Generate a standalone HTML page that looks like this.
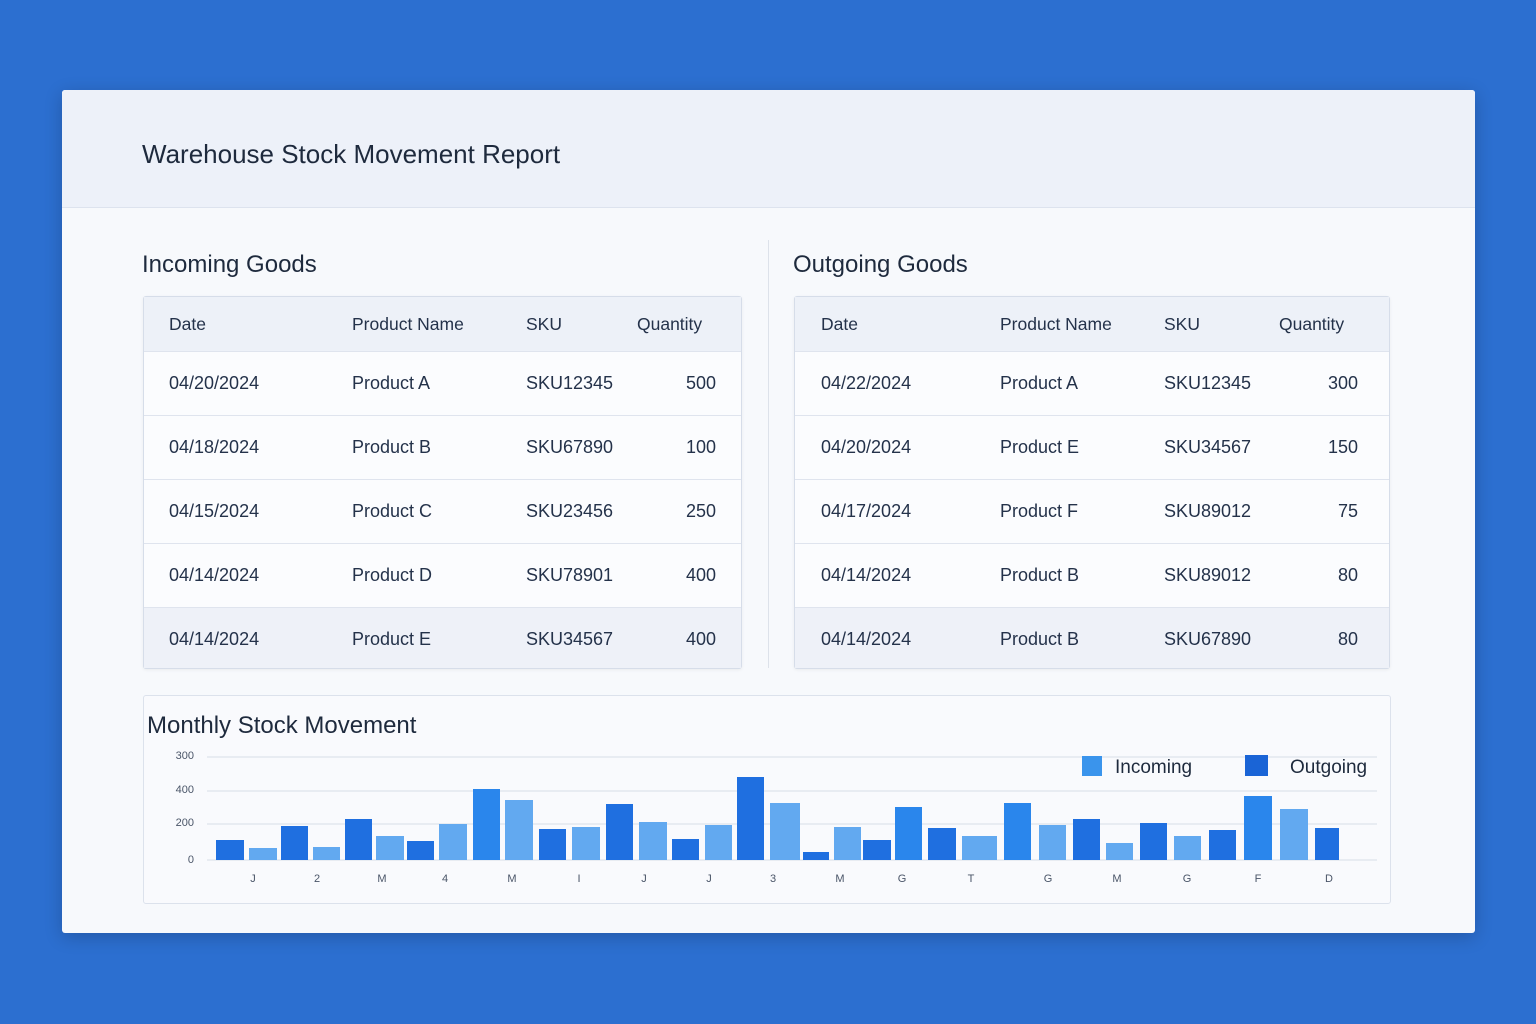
<!DOCTYPE html>
<html><head><style>
body{margin:0;width:1536px;height:1024px;background:#2c6fd0;font-family:"Liberation Sans",sans-serif;position:relative;overflow:hidden;color:#1e2a3d}
.card{position:absolute;left:62px;top:90px;width:1413px;height:843px;background:#f7f9fc;border-radius:3px;box-shadow:0 4px 18px rgba(0,0,0,.2);overflow:hidden}
.hdr{position:absolute;left:0;top:0;width:100%;height:117px;background:#edf1f9;border-bottom:1px solid #dde3ee}
.t{position:absolute;white-space:nowrap}
.tbl{position:absolute;top:296px;height:371px;border:1px solid #d6dde9;background:#fbfcfe;border-radius:3px;box-shadow:0 1px 3px rgba(0,0,0,.06)}
.row{position:absolute;left:0;width:100%;border-bottom:1px solid #dfe4ee}
.row span{position:absolute;font-size:18px;color:#24324a}
</style></head><body>
<div class="card">
<div class="hdr"></div>
<div class="t" style="left:80px;top:49px;font-size:26px;color:#1e2a3d">Warehouse Stock Movement Report</div>
<div class="t" style="left:80px;top:161px;font-size:24px">Incoming Goods</div>
<div class="t" style="left:731px;top:161px;font-size:24px">Outgoing Goods</div>
<div style="position:absolute;left:706px;top:150px;width:1px;height:428px;background:#dde2ea"></div>
</div>

<div class="tbl" style="left:143px;width:597px">
<div class="row" style="top:0;height:54px;background:#edf1f8"><span style="left:25px;top:17px;font-size:17.5px">Date</span><span style="left:208px;top:17px;font-size:17.5px">Product Name</span><span style="left:382px;top:17px;font-size:17.5px">SKU</span><span style="left:493px;top:17px;font-size:17.5px">Quantity</span></div>
<div class="row" style="top:55px;height:63px"><span style="left:25px;top:21px">04/20/2024</span><span style="left:208px;top:21px">Product A</span><span style="left:382px;top:21px">SKU12345</span><span style="right:25px;top:21px">500</span></div>
<div class="row" style="top:119px;height:63px"><span style="left:25px;top:21px">04/18/2024</span><span style="left:208px;top:21px">Product B</span><span style="left:382px;top:21px">SKU67890</span><span style="right:25px;top:21px">100</span></div>
<div class="row" style="top:183px;height:63px"><span style="left:25px;top:21px">04/15/2024</span><span style="left:208px;top:21px">Product C</span><span style="left:382px;top:21px">SKU23456</span><span style="right:25px;top:21px">250</span></div>
<div class="row" style="top:247px;height:63px"><span style="left:25px;top:21px">04/14/2024</span><span style="left:208px;top:21px">Product D</span><span style="left:382px;top:21px">SKU78901</span><span style="right:25px;top:21px">400</span></div>
<div class="row" style="top:311px;height:60px;background:#eef1f8;border:none"><span style="left:25px;top:21px">04/14/2024</span><span style="left:208px;top:21px">Product E</span><span style="left:382px;top:21px">SKU34567</span><span style="right:25px;top:21px">400</span></div>
</div>

<div class="tbl" style="left:794px;width:594px">
<div class="row" style="top:0;height:54px;background:#edf1f8"><span style="left:26px;top:17px;font-size:17.5px">Date</span><span style="left:205px;top:17px;font-size:17.5px">Product Name</span><span style="left:369px;top:17px;font-size:17.5px">SKU</span><span style="left:484px;top:17px;font-size:17.5px">Quantity</span></div>
<div class="row" style="top:55px;height:63px"><span style="left:26px;top:21px">04/22/2024</span><span style="left:205px;top:21px">Product A</span><span style="left:369px;top:21px">SKU12345</span><span style="right:31px;top:21px">300</span></div>
<div class="row" style="top:119px;height:63px"><span style="left:26px;top:21px">04/20/2024</span><span style="left:205px;top:21px">Product E</span><span style="left:369px;top:21px">SKU34567</span><span style="right:31px;top:21px">150</span></div>
<div class="row" style="top:183px;height:63px"><span style="left:26px;top:21px">04/17/2024</span><span style="left:205px;top:21px">Product F</span><span style="left:369px;top:21px">SKU89012</span><span style="right:31px;top:21px">75</span></div>
<div class="row" style="top:247px;height:63px"><span style="left:26px;top:21px">04/14/2024</span><span style="left:205px;top:21px">Product B</span><span style="left:369px;top:21px">SKU89012</span><span style="right:31px;top:21px">80</span></div>
<div class="row" style="top:311px;height:60px;background:#eef1f8;border:none"><span style="left:26px;top:21px">04/14/2024</span><span style="left:205px;top:21px">Product B</span><span style="left:369px;top:21px">SKU67890</span><span style="right:31px;top:21px">80</span></div>
</div>

<div style="position:absolute;left:143px;top:695px;width:1246px;height:207px;border:1px solid #dce2ec;background:#f9fafd;border-radius:3px"></div>
<div class="t" style="left:147px;top:712px;font-size:24px">Monthly Stock Movement</div>

<svg style="position:absolute;left:0;top:0" width="1536" height="1024" font-family="Liberation Sans, sans-serif">
<g stroke="#e3e7ef" stroke-width="1.5">
<line x1="207" y1="757" x2="1377" y2="757"/><line x1="207" y1="791" x2="1377" y2="791"/><line x1="207" y1="824" x2="1377" y2="824"/><line x1="207" y1="860" x2="1377" y2="860"/>
</g>
<g font-size="11" fill="#4a5568" text-anchor="end">
<text x="194" y="759">300</text><text x="194" y="793">400</text><text x="194" y="826">200</text><text x="194" y="863">0</text>
</g>
<g id="bars"></g>
<rect x="1082" y="756" width="20" height="20" fill="#3a94ec"/>
<text x="1115" y="773" font-size="19" fill="#1e2a3d">Incoming</text>
<rect x="1245" y="755" width="23" height="21" fill="#1a64d6"/>
<text x="1290" y="773" font-size="19" fill="#1e2a3d">Outgoing</text>
<g font-size="11" fill="#4a5568" text-anchor="middle">
<text x="253" y="882">J</text><text x="317" y="882">2</text><text x="382" y="882">M</text><text x="445" y="882">4</text><text x="512" y="882">M</text><text x="579" y="882">I</text><text x="644" y="882">J</text><text x="709" y="882">J</text><text x="773" y="882">3</text><text x="840" y="882">M</text><text x="902" y="882">G</text><text x="971" y="882">T</text><text x="1048" y="882">G</text><text x="1117" y="882">M</text><text x="1187" y="882">G</text><text x="1258" y="882">F</text><text x="1329" y="882">D</text>
</g>
</svg>
<script>
var d=[[216,244,840,'d'],[249,277,848,'l'],[281,308,826,'d'],[313,340,847,'l'],[345,372,819,'d'],[376,404,836,'l'],[407,434,841,'d'],[439,467,824,'l'],[473,500,789,'m'],[505,533,800,'l'],[539,566,829,'d'],[572,600,827,'l'],[606,633,804,'d'],[639,667,822,'l'],[672,699,839,'d'],[705,732,825,'l'],[737,764,777,'d'],[770,800,803,'l'],[803,829,852,'d'],[834,861,827,'l'],[863,891,840,'d'],[895,922,807,'m'],[928,956,828,'d'],[962,997,836,'l'],[1004,1031,803,'m'],[1039,1066,825,'l'],[1073,1100,819,'d'],[1106,1133,843,'l'],[1140,1167,823,'d'],[1174,1201,836,'l'],[1209,1236,830,'d'],[1244,1272,796,'m'],[1280,1308,809,'l'],[1315,1339,828,'d']];
var c={d:'#1f6fe0',l:'#62a9f0',m:'#2a86ec'},s='';
d.forEach(function(b){s+='<rect x="'+b[0]+'" y="'+b[2]+'" width="'+(b[1]-b[0])+'" height="'+(860-b[2])+'" fill="'+c[b[3]]+'"/>';});
document.getElementById('bars').innerHTML=s;
</script>
</body></html>
